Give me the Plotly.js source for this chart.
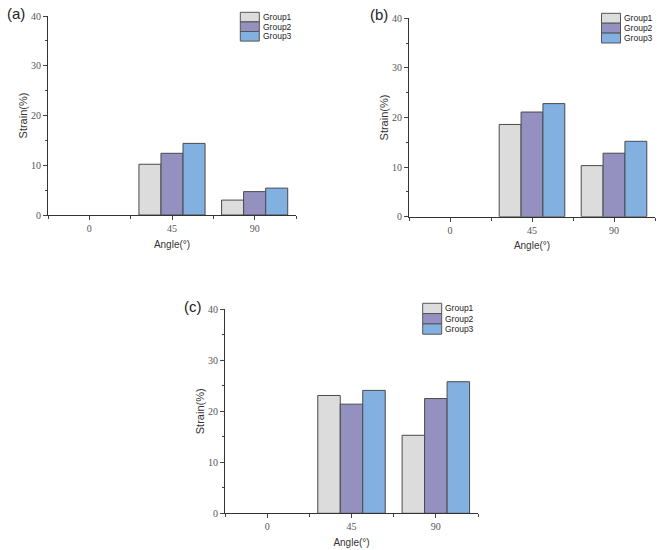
<!DOCTYPE html>
<html><head><meta charset="utf-8">
<script src="https://cdn.plot.ly/plotly-3.0.1.min.js"></script>
<style>html,body{margin:0;padding:0;background:#fff}#plot{width:660px;height:550px}</style>
</head><body><div id="plot"></div>
<script>
const angles = ["0", "45", "90"];
const groups = ["Group1", "Group2", "Group3"];
const panelA = {Group1: [0, 10.2, 3.0], Group2: [0, 12.4, 4.7], Group3: [0, 14.4, 5.4]};
const panelB = {Group1: [0, 18.6, 10.3], Group2: [0, 21.1, 12.8], Group3: [0, 22.8, 15.2]};
const panelC = {Group1: [0, 23.1, 15.3], Group2: [0, 21.4, 22.5], Group3: [0, 24.1, 25.8]};
const panelLabels = ["(a)", "(b)", "(c)"];
const yTicks = [0, 10, 20, 30, 40];

const colors = {Group1: "#dcdcdc", Group2: "#9490bf", Group3: "#82b0e0"};
const panels = [panelA, panelB, panelC];
const axisIds = [["x", "y"], ["x2", "y2"], ["x3", "y3"]];
const catIndex = angles.map((_, k) => k);

const traces = [];
panels.forEach((p, i) => {
  groups.forEach(g => {
    traces.push({
      type: "bar", x: catIndex, y: p[g], name: g, showlegend: false,
      customdata: angles,
      xaxis: axisIds[i][0], yaxis: axisIds[i][1],
      marker: {color: colors[g], line: {color: "#4a4a4a", width: p[g].map(v => v > 0 ? 1 : 0)}},
      hovertemplate: "%{customdata}: %{y}<extra>" + g + "</extra>"
    });
  });
});

const W = 660, H = 550;
const boxes = [
  {x0: 48, x1: 296, yb: 215, yt: 16},
  {x0: 409, x1: 655, yb: 216.7, yt: 18.3},
  {x0: 225, x1: 478, yb: 513.3, yt: 309.3}
];
const tickFont = {family: "Liberation Serif, serif", size: 10, color: "#555"};
const xTitleFont = {family: "Liberation Sans, Arial, sans-serif", size: 10, color: "#333"};
const yTitleFont = {family: "Liberation Sans, Arial, sans-serif", size: 11, color: "#333"};

const layout = {
  width: W, height: H, margin: {l: 0, r: 0, t: 0, b: 0},
  paper_bgcolor: "#fff", plot_bgcolor: "rgba(0,0,0,0)",
  barmode: "group", bargap: 0.2, bargroupgap: 0, showlegend: false,
  annotations: [], shapes: [], font: {family: "Liberation Sans, Arial, sans-serif"}
};
// legend layout: left of swatch, top of first swatch, row pitch (pixels)
const legendPos = [[240.3, 12.3, 9.6], [601.5, 13.3, 9.9], [422.7, 303.3, 10.3]];
boxes.forEach((b, i) => {
  const xk = i === 0 ? "xaxis" : "xaxis" + (i + 1);
  const yk = i === 0 ? "yaxis" : "yaxis" + (i + 1);
  const ya = axisIds[i][1];
  const xa = axisIds[i][0];
  layout[xk] = {
    domain: [b.x0 / W, b.x1 / W], anchor: ya, type: "linear",
    range: [-0.5, 2.5], tickvals: catIndex, ticktext: angles, ticks: "outside", ticklen: 4,
    tickcolor: "#444", showline: true, linecolor: "#333", linewidth: 1,
    minor: {tick0: 0.5, dtick: 1, ticks: "outside", ticklen: 3, tickcolor: "#444", showgrid: false},
    showgrid: false, zeroline: false, tickfont: tickFont,
    title: {text: "Angle(°)", font: xTitleFont, standoff: 7}
  };
  layout[yk] = {
    domain: [1 - b.yb / H, 1 - b.yt / H], anchor: xa,
    range: [0, 40], tickvals: yTicks, ticks: "outside", ticklen: 4,
    tickcolor: "#444", showline: true, linecolor: "#333", linewidth: 1,
    showgrid: false, zeroline: false, tickfont: tickFont,
    minor: {dtick: 5, ticks: "outside", ticklen: 2, tickcolor: "#444"},
    title: {text: "Strain(%)", font: yTitleFont, standoff: 1}
  };
  const [lx, ly, pitch] = legendPos[i];
  groups.forEach((g, k) => {
    const top = ly + k * pitch;
    layout.shapes.push({
      type: "rect", xref: "paper", yref: "paper",
      x0: lx / W, x1: (lx + 19) / W, y0: 1 - top / H, y1: 1 - (top + pitch) / H,
      fillcolor: colors[g], line: {color: "#555", width: 1}
    });
    layout.annotations.push({
      text: g, xref: "paper", yref: "paper", x: (lx + 21.5) / W, y: 1 - (top + pitch / 2) / H,
      xanchor: "left", yanchor: "middle", showarrow: false, borderpad: 0,
      font: {family: "Liberation Sans, Arial, sans-serif", size: 8.5, color: "#222"}
    });
  });
});
const labelPos = [[5, 13], [368, 15], [182, 306]];
panelLabels.forEach((t, i) => {
  layout.annotations.push({
    text: t, xref: "paper", yref: "paper", x: labelPos[i][0] / W, y: 1 - labelPos[i][1] / H,
    xanchor: "left", yanchor: "middle", showarrow: false,
    font: {family: "Liberation Sans, Arial, sans-serif", size: 15, color: "#222"}
  });
});
Plotly.newPlot("plot", traces, layout, {displayModeBar: false, staticPlot: true});
</script></body></html>
